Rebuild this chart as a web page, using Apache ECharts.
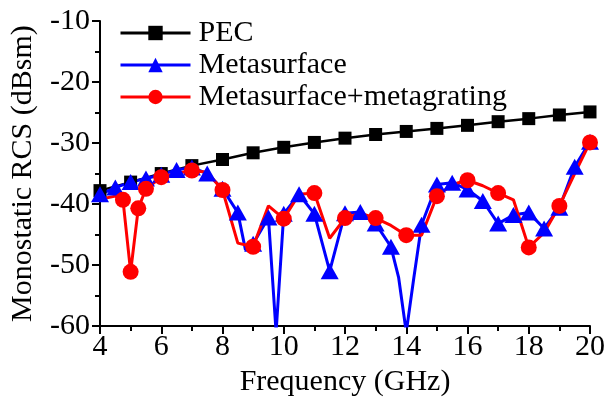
<!DOCTYPE html>
<html>
<head>
<meta charset="utf-8">
<script src="https://cdn.jsdelivr.net/npm/echarts@6/dist/echarts.min.js"></script>
<style>
  html, body { margin: 0; padding: 0; background: #fff; }
  #chart { width: 613px; height: 402px; }
</style>
</head>
<body>
<div id="chart"></div>
<script>
// PEC reference plate
const pecFreq = [4, 5, 6, 7, 8, 9, 10, 11, 12, 13, 14, 15, 16, 17, 18, 19, 20];
const pecRcs = [-37.8, -36.4, -35.0, -33.7, -32.7, -31.6, -30.7, -29.9, -29.2, -28.6, -28.1, -27.6, -27.1, -26.5, -26.0, -25.4, -24.9];

// Metasurface
const metaFreq = [4, 4.5, 5, 5.5, 6, 6.5, 7, 7.5, 8, 8.5, 8.75, 9, 9.5, 9.75, 10, 10.5, 11, 11.5, 12, 12.5, 13, 13.5, 13.75, 14, 14.25, 14.5, 15, 15.5, 16, 16.5, 17, 17.5, 18, 18.5, 19, 19.5, 20];
const metaRcs = [-38.4, -37.3, -36.4, -35.8, -35.2, -34.4, -34.0, -35.0, -37.5, -41.4, -47.5, -46.5, -42.2, -61, -41.6, -38.4, -41.6, -51.0, -41.5, -41.3, -43.2, -47.0, -52.0, -61, -52.0, -43.4, -36.8, -36.5, -37.6, -39.5, -43.2, -41.8, -41.4, -44.0, -40.6, -33.9, -29.8];
const metaNoMarker = [8.75, 9.75, 13.75, 14, 14.25];

// Metasurface + metagrating
const gratingFreq = [4, 4.5, 4.75, 5, 5.25, 5.5, 6, 6.5, 7, 7.5, 8, 8.5, 9, 9.5, 10, 10.5, 11, 11.5, 12, 12.5, 13, 13.5, 14, 14.5, 15, 15.5, 16, 16.5, 17, 17.5, 18, 18.5, 19, 19.5, 20];
const gratingRcs = [-39.2, -38.7, -39.3, -51.1, -40.7, -37.5, -35.6, -35.0, -34.5, -34.8, -37.7, -46.4, -47.0, -40.3, -42.4, -38.4, -38.2, -45.6, -42.3, -41.5, -42.3, -43.5, -45.1, -45.1, -38.7, -36.8, -36.1, -37.0, -38.2, -39.3, -47.1, -44.7, -40.3, -35.0, -29.9];
const gratingMarked = [4.75, 5, 5.25, 5.5, 6, 7, 8, 9, 10, 11, 12, 13, 14, 15, 16, 17, 18, 19, 20];

const FONT = "'Liberation Serif', 'Times New Roman', serif";

function buildPoints(freq, rcs, showMarker) {
  return freq.map((f, i) => {
    const item = { value: [f, rcs[i]] };
    if (!showMarker(f)) item.symbol = 'none';
    return item;
  });
}

const chart = echarts.init(document.getElementById('chart'));

const axisCommon = {
  axisLine: { show: true, lineStyle: { color: '#000', width: 2 } },
  axisTick: { show: true, inside: false, length: 8, lineStyle: { color: '#000', width: 2 } },
  minorTick: { show: true, splitNumber: 2, length: 5, lineStyle: { color: '#000', width: 2 } },
  splitLine: { show: false },
  axisLabel: { color: '#000', fontFamily: FONT, fontSize: 30 },
  nameTextStyle: { color: '#000', fontFamily: FONT, fontSize: 30 }
};

const option = {
  animation: false,
  backgroundColor: '#fff',
  grid: { left: 100, right: 23, top: 21, bottom: 69 },
  legend: {
    orient: 'vertical',
    left: 114,
    top: 13,
    itemWidth: 70,
    itemHeight: 18,
    itemGap: 2,
    lineStyle: { width: 3 },
    textStyle: { color: '#000', fontFamily: FONT, fontSize: 30, padding: [0, 0, 0, 3] },
    data: ['PEC', 'Metasurface', 'Metasurface+metagrating']
  },
  xAxis: {
    ...axisCommon,
    type: 'value',
    min: 4,
    max: 20,
    interval: 2,
    name: 'Frequency (GHz)',
    nameLocation: 'middle',
    nameGap: 36,
    axisLabel: { ...axisCommon.axisLabel, margin: 6 }
  },
  yAxis: {
    ...axisCommon,
    type: 'value',
    min: -60,
    max: -10,
    interval: 10,
    name: 'Monostatic RCS (dBsm)',
    nameLocation: 'middle',
    nameGap: 62,
    axisLabel: { ...axisCommon.axisLabel, margin: 10 }
  },
  series: [
    {
      name: 'PEC',
      type: 'line',
      data: buildPoints(pecFreq, pecRcs, () => true),
      symbol: 'rect',
      symbolSize: 13,
      showAllSymbol: true,
      lineStyle: { color: '#000', width: 2.5 },
      itemStyle: { color: '#000' }
    },
    {
      name: 'Metasurface',
      type: 'line',
      data: buildPoints(metaFreq, metaRcs, f => !metaNoMarker.includes(f)),
      symbol: 'triangle',
      symbolSize: [18, 16],
      showAllSymbol: true,
      lineStyle: { color: '#0000ff', width: 3 },
      itemStyle: { color: '#0000ff' }
    },
    {
      name: 'Metasurface+metagrating',
      type: 'line',
      data: buildPoints(gratingFreq, gratingRcs, f => gratingMarked.includes(f)),
      symbol: 'circle',
      symbolSize: 16,
      showAllSymbol: true,
      lineStyle: { color: '#ff0000', width: 3 },
      itemStyle: { color: '#ff0000' }
    }
  ]
};

chart.setOption(option);
</script>
</body>
</html>
